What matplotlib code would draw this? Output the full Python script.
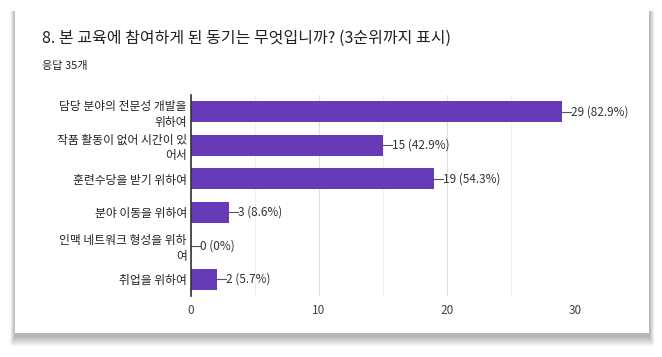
import matplotlib
matplotlib.use("Agg")
import matplotlib.pyplot as plt
from matplotlib.patches import Rectangle

plt.rcParams['font.family'] = ['Noto Sans CJK KR', 'DejaVu Sans']

title = "8. 본 교육에 참여하게 된 동기는 무엇입니까? (3순위까지 표시)"
subtitle = "응답 35개"
categories = ["담당 분야의 전문성 개발을\n위하여", "작품 활동이 없어 시간이 있\n어서", "훈련수당을 받기 위하여",
              "분야 이동을 위하여", "인맥 네트워크 형성을 위하\n여", "취업을 위하여"]
values = [29, 15, 19, 3, 0, 2]
total = 35
xticks = [0, 10, 20, 30]

fig = plt.figure(figsize=(6.62, 3.57), dpi=100)
W, H = 662, 357

# card soft shadow (offset downward)
cx, cy_top, cw, ch = 15, 8, 634, 325
for d in range(10, 0, -1):
    off = 3
    fig.patches.append(Rectangle(((cx - d * 0.5) / W, (H - (cy_top + ch) - off - d) / H),
                                 (cw + 1.0 * d) / W, (ch + d) / H,
                                 transform=fig.transFigure, facecolor='black', alpha=0.03,
                                 edgecolor='none', zorder=0))
fig.patches.append(Rectangle((cx / W, (H - cy_top - ch) / H), cw / W, ch / H, transform=fig.transFigure,
                             facecolor='white', edgecolor='none', zorder=1))

fig.text(42 / W, 1 - 38 / H, title, fontsize=11.5, color='#212121', va='center', ha='left')
fig.text(42 / W, 1 - 66 / H, subtitle, fontsize=8, color='#212121', va='center', ha='left')

ax = fig.add_axes([191 / W, 61 / H, 384 / W, 201 / H])
ax.set_zorder(2)
ax.patch.set_alpha(0)
y = list(range(len(categories)))
ax.barh(y, values, height=0.64, color='#673AB7', zorder=3)
ax.set_ylim(len(categories) - 0.5, -0.5)
ax.set_xlim(0, 30)
ax.set_xticks(xticks)
ax.set_xticks([5, 15, 25], minor=True)
ax.grid(axis='x', which='major', color='#e0e0e0', linewidth=0.8, zorder=0)
ax.grid(axis='x', which='minor', color='#f0f0f0', linewidth=0.8, zorder=0)
ax.tick_params(axis='x', which='both', length=0, labelsize=8.5, labelcolor='#444444', pad=6)
ax.tick_params(axis='y', length=0, labelsize=8.5, labelcolor='#222222', pad=3)
ax.set_yticks(y)
ax.set_yticklabels(categories, ha='right', multialignment='right', linespacing=1.25)
for s in ['top', 'right', 'bottom']:
    ax.spines[s].set_visible(False)
ax.spines['left'].set_color('#333333')
ax.spines['left'].set_linewidth(1.2)
ax.spines['left'].set_zorder(5)

for yi, v in zip(y, values):
    p = v / total * 100
    ps = f"{p:.1f}".rstrip('0').rstrip('.')
    ax.plot([v, v + 0.7], [yi, yi], color='#555555', linewidth=0.8, zorder=4, clip_on=False)
    ax.text(v + 0.7, yi, f"{v} ({ps}%)", fontsize=8.5, color='#333333', va='center', ha='left', zorder=4,
            clip_on=False)

fig.savefig("out.png", dpi=100, facecolor='white')
